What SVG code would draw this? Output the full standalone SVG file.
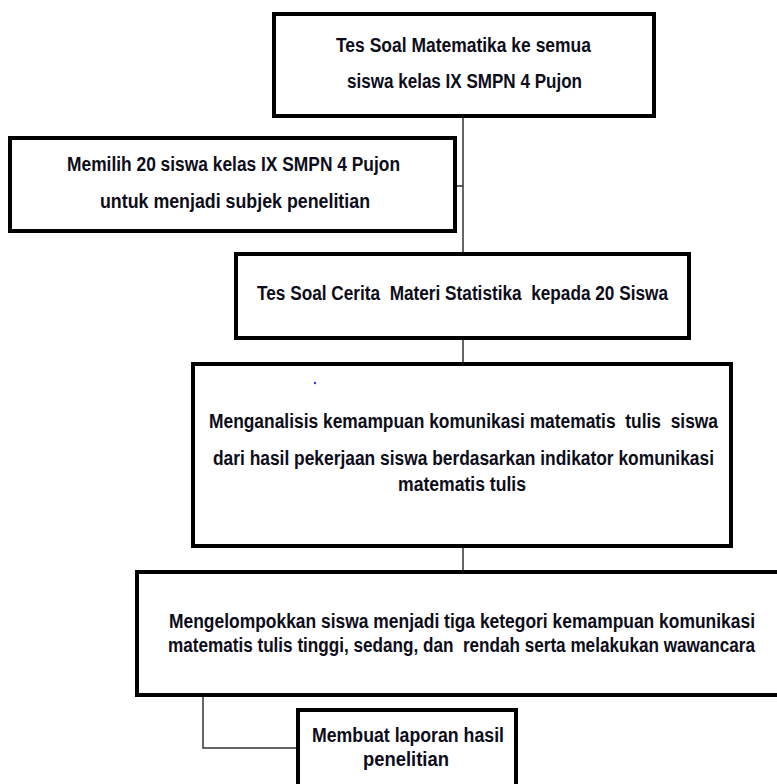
<svg xmlns="http://www.w3.org/2000/svg" width="777" height="784" viewBox="0 0 777 784">
<style>
  .box { fill: #ffffff; stroke: #000000; stroke-width: 4; }
  .t { font-family: "Liberation Sans Narrow", "Liberation Sans", Arial, sans-serif; font-weight: bold; font-size: 20px; fill: #0d0d1a; white-space: pre; }
  .conn { fill: none; stroke: #333333; stroke-width: 1.5; }
</style>
<rect x="0" y="0" width="777" height="784" fill="#ffffff"/>
<g id="connectors">
  <line class="conn" x1="463" y1="116" x2="463" y2="254"/>
  <line class="conn" x1="455" y1="186" x2="463" y2="186"/>
  <line class="conn" x1="463" y1="338" x2="463" y2="364"/>
  <line class="conn" x1="463" y1="546" x2="463" y2="572"/>
  <polyline class="conn" points="203,695 203,748 298,748"/>
</g>
<g id="node1">
  <rect class="box" x="274" y="14" width="380" height="102"/>
  <text class="t" x="336" y="52" textLength="255" lengthAdjust="spacingAndGlyphs">Tes Soal Matematika ke semua</text>
  <text class="t" x="347" y="88" textLength="235" lengthAdjust="spacingAndGlyphs">siswa kelas IX SMPN 4 Pujon</text>
</g>
<g id="node2">
  <rect class="box" x="10" y="138" width="445" height="93"/>
  <text class="t" x="67" y="171" textLength="333" lengthAdjust="spacingAndGlyphs">Memilih 20 siswa kelas IX SMPN 4 Pujon</text>
  <text class="t" x="100" y="208" textLength="270" lengthAdjust="spacingAndGlyphs">untuk menjadi subjek penelitian</text>
</g>
<g id="node3">
  <rect class="box" x="236" y="254" width="453" height="84"/>
  <text class="t" x="257" y="300" textLength="411" lengthAdjust="spacingAndGlyphs">Tes Soal Cerita  Materi Statistika  kepada 20 Siswa</text>
</g>
<g id="node4">
  <rect class="box" x="193" y="364" width="538" height="182"/>
  <circle cx="315" cy="383" r="1.2" fill="#3333ff"/>
  <text class="t" x="209" y="428" textLength="509" lengthAdjust="spacingAndGlyphs">Menganalisis kemampuan komunikasi matematis  tulis  siswa</text>
  <text class="t" x="213" y="465" textLength="501" lengthAdjust="spacingAndGlyphs">dari hasil pekerjaan siswa berdasarkan indikator komunikasi</text>
  <text class="t" x="398" y="491" textLength="128" lengthAdjust="spacingAndGlyphs">matematis tulis</text>
</g>
<g id="node5">
  <rect class="box" x="137" y="572" width="670" height="123"/>
  <text class="t" x="169" y="628" textLength="586" lengthAdjust="spacingAndGlyphs">Mengelompokkan siswa menjadi tiga ketegori kemampuan komunikasi</text>
  <text class="t" x="168" y="652" textLength="587" lengthAdjust="spacingAndGlyphs">matematis tulis tinggi, sedang, dan  rendah serta melakukan wawancara</text>
</g>
<g id="node6">
  <rect class="box" x="298" y="710" width="218" height="100"/>
  <text class="t" x="312" y="742" textLength="192" lengthAdjust="spacingAndGlyphs">Membuat laporan hasil</text>
  <text class="t" x="363" y="766" textLength="86" lengthAdjust="spacingAndGlyphs">penelitian</text>
</g>
</svg>
